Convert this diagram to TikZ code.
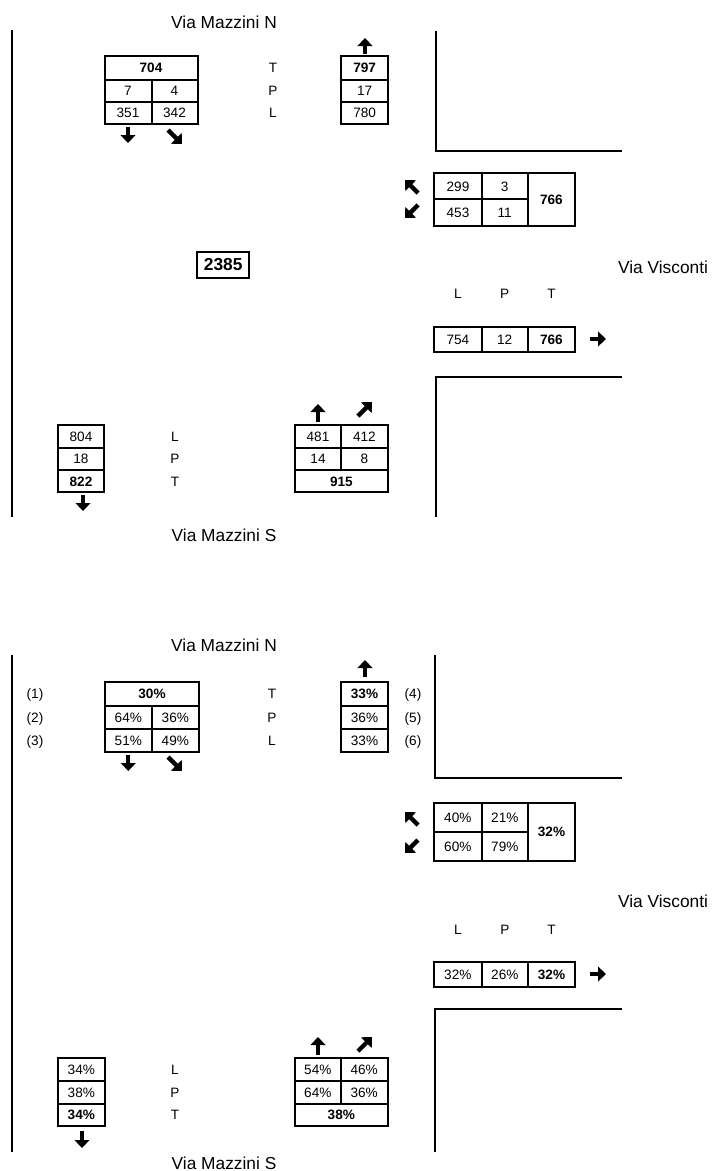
\documentclass[tikz,border=0pt]{standalone}
\usepackage{fontspec}
\setmainfont{Liberation Sans}
\usetikzlibrary{arrows.meta}
\tikzset{
  cell/.style={draw, line width=1.5pt, inner sep=0pt, font=\fontsize{10.2}{12}\selectfont, text height=7.3pt, text depth=0pt},
  lbl/.style={inner sep=0pt, font=\fontsize{10.2}{12}\selectfont, text height=7.3pt, text depth=0pt},
  street/.style={inner sep=0pt, font=\fontsize{13}{15}\selectfont},
  road/.style={line width=1.5pt},
  barrow/.style={line width=3.2pt, -{Triangle[width=11pt,length=6pt]}},
}
\newcommand\tcell[6]{%
  \pgfmathsetmacro\tcw{(#4-#2)*0.75}%
  \pgfmathsetmacro\tch{(#5-#3)*0.75}%
  \node[cell, minimum width=\tcw pt, minimum height=\tch pt] (#1) at ({(#2+#4)/2},{(#3+#5)/2}) {#6};}
\begin{document}
\begin{tikzpicture}[x=0.75pt,y=-0.75pt]
\useasboundingbox (0,0) rectangle (712,1171);
% ================= Diagram 1 =================
\draw[road] (12,30) -- (12,517);
\draw[road] (436,31) -- (436,151) -- (622,151);
\draw[road] (622,377) -- (436,377) -- (436,517);
\node[street] (n1) at (224,22) {Via Mazzini N};
\node[street] (s1) at (224,535) {Via Mazzini S};
\node[street] (v1) at (663,267) {Via Visconti};
% box A
\tcell{A1}{104.5}{56}{197.5}{80}{\textbf{704}}
\tcell{A2}{104.5}{80}{151.5}{101.7}{7}
\tcell{A3}{151.5}{80}{197.5}{101.7}{4}
\tcell{A4}{104.5}{101.7}{151.5}{124}{351}
\tcell{A5}{151.5}{101.7}{197.5}{124}{342}
% labels T P L
\node[lbl] (aT) at (273,68) {T};
\node[lbl] (aP) at (273,90.8) {P};
\node[lbl] (aL) at (273,112.8) {L};
% box B
\tcell{B1}{341}{56}{388.3}{80}{\textbf{797}}
\tcell{B2}{341}{80}{388.3}{101.7}{17}
\tcell{B3}{341}{101.7}{388.3}{124}{780}
% box C
\tcell{C1}{434.3}{173.3}{481.7}{199}{299}
\tcell{C2}{481.7}{173.3}{527.7}{199}{3}
\tcell{C3}{434.3}{199}{481.7}{225.7}{453}
\tcell{C4}{481.7}{199}{527.7}{225.7}{11}
\tcell{C5}{527.7}{173.3}{575}{225.7}{\textbf{766}}
% total
\node[draw, line width=1.5pt, inner sep=0pt, minimum width=38.8pt, minimum height=20pt, font=\fontsize{13}{15}\selectfont\bfseries] (tot) at (223.2,265) {2385};
% L P T horizontal
\node[lbl] (dL) at (457.9,294) {L};
\node[lbl] (dP) at (504.7,294) {P};
\node[lbl] (dT) at (551.4,294) {T};
% box D
\tcell{D1}{434}{326.7}{481.7}{352.3}{754}
\tcell{D2}{481.7}{326.7}{527.7}{352.3}{12}
\tcell{D3}{527.7}{326.7}{575}{352.3}{\textbf{766}}
% box E
\tcell{E1}{57.7}{425}{104.3}{447.7}{804}
\tcell{E2}{57.7}{447.7}{104.3}{470}{18}
\tcell{E3}{57.7}{470}{104.3}{492.3}{\textbf{822}}
\node[lbl] (eL) at (175,436.3) {L};
\node[lbl] (eP) at (175,458.8) {P};
\node[lbl] (eT) at (175,481.2) {T};
% box F
\tcell{F1}{295}{425}{341}{447.7}{481}
\tcell{F2}{341}{425}{387.7}{447.7}{412}
\tcell{F3}{295}{447.7}{341}{470}{14}
\tcell{F4}{341}{447.7}{387.7}{470}{8}
\tcell{F5}{295}{470}{387.7}{492.3}{\textbf{915}}
% arrows
\draw[barrow] (128,127) -- (128,143);
\draw[barrow] (168,130) -- (182,144);
\draw[barrow] (365,54) -- (365,38);
\draw[barrow] (418,193) -- (405,180);
\draw[barrow] (418,205) -- (405,218);
\draw[barrow] (590,339) -- (606,339);
\draw[barrow] (318,422) -- (318,404);
\draw[barrow] (358,416) -- (372,402);
\draw[barrow] (83,495) -- (83,511);
% ================= Diagram 2 =================
\draw[road] (12,655) -- (12,1152);
\draw[road] (435,655) -- (435,778.3) -- (622,778.3);
\draw[road] (622,1009) -- (435,1009) -- (435,1152);
\node[street] (n2) at (224,645) {Via Mazzini N};
\node[street] (s2) at (224,1163) {Via Mazzini S};
\node[street] (v2) at (663,901.7) {Via Visconti};
% box G
\tcell{G1}{105}{681.7}{199}{706}{\textbf{30\%}}
\tcell{G2}{105}{706}{151.7}{729}{64\%}
\tcell{G3}{151.7}{706}{199}{729}{36\%}
\tcell{G4}{105}{729}{151.7}{752.3}{51\%}
\tcell{G5}{151.7}{729}{199}{752.3}{49\%}
\node[lbl] (p1) at (35,693.8) {(1)};
\node[lbl] (p2) at (35,717.5) {(2)};
\node[lbl] (p3) at (35,740.6) {(3)};
\node[lbl] (gT) at (272,693.8) {T};
\node[lbl] (gP) at (272,717.5) {P};
\node[lbl] (gL) at (272,740.6) {L};
% box H
\tcell{H1}{340.7}{681.7}{388.3}{706}{\textbf{33\%}}
\tcell{H2}{340.7}{706}{388.3}{729}{36\%}
\tcell{H3}{340.7}{729}{388.3}{752.3}{33\%}
\node[lbl] (p4) at (413,693.8) {(4)};
\node[lbl] (p5) at (413,717.5) {(5)};
\node[lbl] (p6) at (413,740.6) {(6)};
% box I
\tcell{I1}{434}{803.3}{481.7}{832.3}{40\%}
\tcell{I2}{481.7}{803.3}{528}{832.3}{21\%}
\tcell{I3}{434}{832.3}{481.7}{860.7}{60\%}
\tcell{I4}{481.7}{832.3}{528}{860.7}{79\%}
\tcell{I5}{528}{803.3}{575}{860.7}{\textbf{32\%}}
% L P T horizontal
\node[lbl] (jL) at (457.9,930) {L};
\node[lbl] (jP) at (504.8,930) {P};
\node[lbl] (jT) at (551.5,930) {T};
% box J
\tcell{J1}{434}{961.7}{481.7}{987.3}{32\%}
\tcell{J2}{481.7}{961.7}{528}{987.3}{26\%}
\tcell{J3}{528}{961.7}{575}{987.3}{\textbf{32\%}}
% box K
\tcell{K1}{57.7}{1058.3}{105}{1081}{34\%}
\tcell{K2}{57.7}{1081}{105}{1104}{38\%}
\tcell{K3}{57.7}{1104}{105}{1126}{\textbf{34\%}}
\node[lbl] (kL) at (175,1069.6) {L};
\node[lbl] (kP) at (175,1092.5) {P};
\node[lbl] (kT) at (175,1115) {T};
% box M
\tcell{M1}{295}{1058.3}{340.7}{1081}{54\%}
\tcell{M2}{340.7}{1058.3}{387.7}{1081}{46\%}
\tcell{M3}{295}{1081}{340.7}{1104}{64\%}
\tcell{M4}{340.7}{1081}{387.7}{1104}{36\%}
\tcell{M5}{295}{1104}{387.7}{1126}{\textbf{38\%}}
% arrows
\draw[barrow] (128.3,755) -- (128.3,771);
\draw[barrow] (168,757) -- (182,771);
\draw[barrow] (365,677) -- (365,660);
\draw[barrow] (418,825) -- (405,812);
\draw[barrow] (418,840) -- (405,853);
\draw[barrow] (590,974) -- (606,974);
\draw[barrow] (318,1055) -- (318,1037);
\draw[barrow] (358,1051) -- (372,1037);
\draw[barrow] (82,1131) -- (82,1148);
\end{tikzpicture}
\end{document}
